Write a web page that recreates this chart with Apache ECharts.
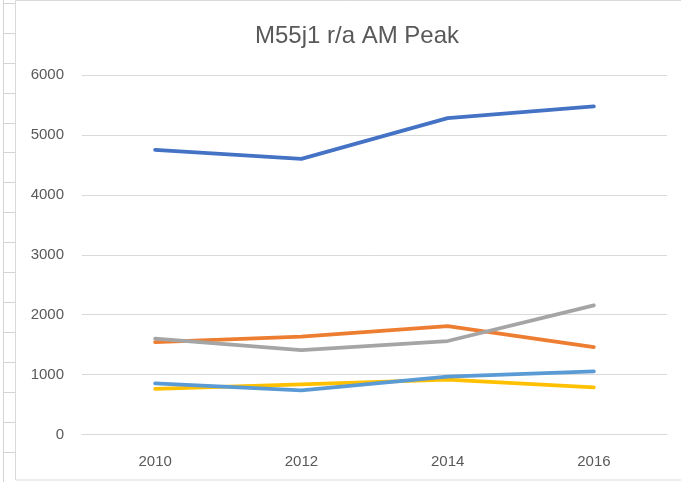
<!DOCTYPE html>
<html><head><meta charset="utf-8">
<script src="https://cdn.jsdelivr.net/npm/echarts@6/dist/echarts.min.js"></script>
<style>html,body{margin:0;padding:0;background:#fff}#c{width:681px;height:482px}</style>
</head><body><div id="c"></div>
<script>
const categories = ['2010', '2012', '2014', '2016'];
const seriesA = [4750, 4600, 5280, 5475];
const seriesB = [1540, 1635, 1810, 1460];
const seriesC = [1600, 1410, 1560, 2155];
const seriesD = [760, 835, 915, 785];
const seriesE = [855, 735, 965, 1055];
const yTicks = { min: 0, max: 6000, interval: 1000 };
const titleText = 'M55j1 r/a AM Peak';

const chart = echarts.init(document.getElementById('c'), null, { renderer: 'canvas' });

// decorative spreadsheet cell borders at the left edge
const deco = [];
deco.push({ type: 'line', shape: { x1: 3.5, y1: 0, x2: 3.5, y2: 482 }, style: { stroke: '#d4d4d4', lineWidth: 1 }, silent: true });
for (let i = 0; i < 16; i++) {
  const y = Math.round(2.7 + i * 29.95) + 0.5;
  deco.push({ type: 'line', shape: { x1: 3, y1: y, x2: 15, y2: y }, style: { stroke: '#d4d4d4', lineWidth: 1 }, silent: true });
}
deco.push({ type: 'rect', shape: { x: 15.5, y: 0.5, width: 670, height: 479.5 }, style: { fill: 'none', stroke: '#d9d9d9', lineWidth: 1 }, silent: true });

function mk(name, data, color) {
  return { name, type: 'line', data, symbol: 'none', smooth: false,
    lineStyle: { color, width: 3.75, cap: 'round', join: 'round' }, itemStyle: { color }, z: 3 };
}

chart.setOption({
  animation: false,
  backgroundColor: '#ffffff',
  graphic: deco,
  title: { text: titleText, left: 352, top: 19, textAlign: 'center',
    textStyle: { fontFamily: 'Liberation Sans', fontSize: 24, fontWeight: 'normal', color: '#595959' } },
  grid: { left: 82, right: 14, top: 75, bottom: 47.5, containLabel: false },
  xAxis: { type: 'category', data: categories, boundaryGap: true,
    axisLine: { show: true, lineStyle: { color: '#d9d9d9', width: 1 } },
    axisTick: { show: false },
    axisLabel: { color: '#595959', fontFamily: 'Liberation Sans', fontSize: 15, margin: 20 } },
  yAxis: { type: 'value', min: yTicks.min, max: yTicks.max, interval: yTicks.interval,
    axisLine: { show: false }, axisTick: { show: false },
    splitLine: { lineStyle: { color: '#d9d9d9', width: 1 } },
    axisLabel: { color: '#595959', fontFamily: 'Liberation Sans', fontSize: 15, margin: 18,
      formatter: function (v) { return String(v); } } },
  series: [
    mk('A', seriesA, '#4472C4'),
    mk('B', seriesB, '#ED7D31'),
    mk('C', seriesC, '#A5A5A5'),
    mk('D', seriesD, '#FFC000'),
    mk('E', seriesE, '#5B9BD5')
  ]
});
</script>
</body></html>
